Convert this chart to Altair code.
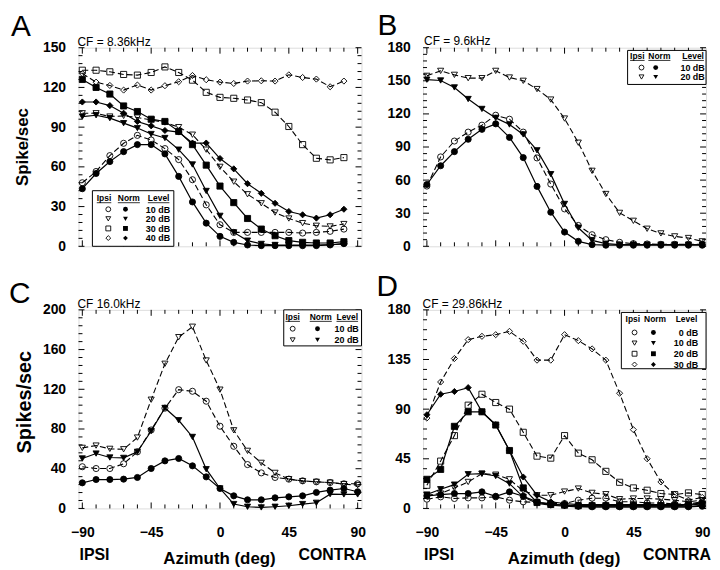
import altair as alt
import pandas as pd

FONT = "Liberation Sans"
W, H = 285, 200

# ---------------- data ----------------
AZ_A = [-90, -81, -72, -63, -54, -45, -36, -27, -18, -9, 0, 9, 18, 27, 36, 45, 54, 63, 72, 81]
AZ = [-90, -81, -72, -63, -54, -45, -36, -27, -18, -9, 0, 9, 18, 27, 36, 45, 54, 63, 72, 81, 90]
SHAPES = ["circle", "triangle-down", "square", "diamond"]

# Panel A (CF = 8.36 kHz)
A_LEVELS = ["10 dB", "20 dB", "30 dB", "40 dB"]
A_IPSI = [
    [48, 56.5, 68.5, 77.8, 83.8, 80.3, 73.8, 65.5, 50.3, 31.3, 16.3, 10.5, 10.5, 10.5, 10.5, 10.5, 10, 10.5, 11.3, 13],
    [100.5, 100.5, 98, 98.5, 97.3, 95.5, 93.5, 90, 84.3, 73, 60, 48.8, 39.3, 32.5, 25.5, 21, 17.5, 15.5, 15, 16.8],
    [133, 133, 131.8, 129.8, 129.3, 131.3, 135.5, 131.3, 125.5, 116.3, 112.5, 111.8, 110.5, 108.5, 101.3, 90.5, 76.8, 66.5, 65.3, 67],
    [130.5, 124, 121.5, 118, 121.8, 118, 121.3, 124.3, 129, 125.8, 124, 123, 124.8, 125, 124.8, 129.5, 127.5, 126.3, 120.5, 124.8],
]
A_NORM = [
    [43.5, 55, 64, 71.5, 76.8, 76.8, 69.8, 52.8, 33.5, 17.5, 7.5, 3, 1, 0.5, 0.5, 0.5, 0.5, 0.5, 1, 2],
    [98, 99, 96.8, 93, 89.3, 84.8, 81.8, 73, 61.8, 41.8, 23, 10.5, 4.3, 1.8, 1, 1, 1, 1, 1.3, 1.8],
    [126, 120, 115, 106, 101.8, 96, 94.3, 86.8, 76.8, 61.3, 45.5, 33, 21, 13, 8, 4.3, 3, 2.5, 2.5, 3.5],
    [109, 109, 106.3, 100.5, 94.3, 91, 87.5, 86.3, 78, 78, 66.3, 58.5, 47.3, 40, 32.5, 26.3, 23.8, 21.3, 23.8, 28],
]

# Panel B (CF = 9.6 kHz)
B_LEVELS = ["10 dB", "20 dB"]
B_IPSI = [
    [54.6, 81, 95.4, 103.5, 109.8, 118.8, 115.2, 103.5, 80.1, 56.4, 33.9, 18.9, 10.5, 6, 3.6, 2.4, 2.1, 1.8, 1.8, 1.8, 1.8],
    [154.5, 159, 155.4, 152.4, 152.4, 159, 153, 150, 142.5, 133, 115.8, 93.9, 68.4, 47.4, 30.3, 23.1, 15.9, 11.7, 9, 7.5, 4.5],
]
B_NORM = [
    [56, 73, 85.8, 97, 106, 111, 98.7, 80.4, 54.3, 30.9, 12.9, 4.5, 1.5, 1, 1, 1, 1, 1, 1, 1, 1],
    [151, 150.3, 144, 133.5, 124.5, 116.4, 110.4, 101.4, 87, 65.4, 38.4, 16.8, 5.4, 2.4, 1.5, 1.5, 1.5, 1.5, 1.5, 1.5, 1.5],
]

# Panel C (CF 16.0 kHz)
C_LEVELS = ["10 dB", "20 dB"]
C_IPSI = [
    [42, 40.2, 40.2, 45, 57, 79, 101, 119.6, 118, 108, 82.8, 62.6, 44.2, 35.8, 31.2, 29.5, 27.8, 26.8, 26.1, 24.8, 24.8],
    [61, 63.3, 60, 59.6, 71.4, 109.5, 145.7, 172.5, 183, 149, 119.6, 78.7, 58, 45.9, 35.8, 29.5, 27.5, 26.8, 26, 24.5, 23.5],
]
C_NORM = [
    [25.8, 29.1, 29.1, 29.5, 31.2, 40.2, 47.9, 50.3, 42.9, 31.8, 20.1, 12.7, 8.7, 8.7, 10.7, 11.7, 12.7, 16.1, 18.4, 20.1, 16.8],
    [50.3, 55.3, 51.3, 50.9, 57, 78, 101.2, 88.8, 72, 39.5, 20.1, 4.4, 1.7, 1, 1.7, 2.7, 4.4, 5.7, 14.4, 14.1, 14.1],
]

# Panel D (CF = 29.86 kHz)
D_LEVELS = ["0 dB", "10 dB", "20 dB", "30 dB"]
D_IPSI = [
    [8.4, 10.5, 9, 9.6, 9.6, 10.5, 7.5, 6, 5.4, 4.5, 4.5, 7.5, 9.3, 9.3, 6, 6, 5, 5, 4, 4, 6],
    [12, 13.5, 18.6, 24, 31.5, 30.6, 26.4, 15.8, 12, 12, 15.3, 18, 14.1, 12.9, 8.4, 9, 9, 8.4, 7.5, 6, 7.5],
    [21, 42.9, 66, 93.6, 103.5, 96, 90, 69, 47.4, 45.6, 66, 50.1, 44.1, 33.6, 23.7, 18.6, 16.5, 13.5, 12.6, 14.1, 12.6],
    [81.9, 114.6, 135.9, 153, 156, 157.5, 160.5, 151.5, 134.4, 134.4, 157.5, 152.1, 144.6, 134.4, 104.4, 71.4, 45, 24, 12.6, 7.5, 10],
]
D_NORM = [
    [11.4, 12.5, 13.5, 13.5, 15, 11, 15, 11, 6, 3.6, 3, 2, 1.5, 1.5, 1.5, 1.5, 1.5, 1.5, 1.5, 1.5, 2],
    [12.6, 17.4, 21.6, 31, 31.5, 29.4, 22.5, 10.5, 4.5, 3, 2, 1.5, 1.5, 1.5, 1.5, 1.5, 1.5, 1.5, 1.5, 1.5, 3],
    [26.4, 35.4, 74.4, 87.6, 87.6, 75.6, 52.5, 18.6, 5.4, 3.6, 3, 2.5, 2.5, 2.5, 2.5, 2.5, 2.5, 2.5, 2.5, 3, 4],
    [84.9, 103.5, 106, 109.5, 87.6, 75.9, 52.5, 28.5, 12, 6, 4.5, 3.5, 3.5, 3.5, 3.5, 3.5, 3.5, 3.5, 3.5, 3.5, 5],
]

X_MAJOR = [-90, -45, 0, 45, 90]
X_MINOR = [-81, -72, -63, -54, -36, -27, -18, -9, 9, 18, 27, 36, 54, 63, 72, 81]

ONE = pd.DataFrame({"o": [0]})


def build_df(az, ipsi, norm, levels):
    rows = []
    for k, lv in enumerate(levels):
        for a, v in zip(az, ipsi[k]):
            rows.append(dict(az=a, val=v, level=lv, kind="Ipsi", sid=f"I{k}",
                             shape=SHAPES[k], fill="transparent"))
        for a, v in zip(az, norm[k]):
            rows.append(dict(az=a, val=v, level=lv, kind="Norm", sid=f"N{k}",
                             shape=SHAPES[k], fill="black"))
    return pd.DataFrame(rows)


def txt(text, x, y, size, weight="normal", align="left", baseline="alphabetic", angle=None):
    props = dict(text=text, fontSize=size, fontWeight=weight, align=align,
                 baseline=baseline, font=FONT, color="black")
    if angle is not None:
        props["angle"] = angle
    return alt.Chart(ONE).mark_text(**props).encode(x=alt.value(x), y=alt.value(y))


def legend(levels, box, header_base, cols, rows_c, underline=True):
    x1, x2, y1, y2 = box
    ipsi_x, norm_x, level_x, sym_o, sym_f, lab_r = cols
    L = [alt.Chart(ONE).mark_rect(fill="white", stroke="black", strokeWidth=1).encode(
        x=alt.value(x1), x2=alt.value(x2), y=alt.value(y1), y2=alt.value(y2))]
    for word, cx, w in [("Ipsi", ipsi_x, 14.6), ("Norm", norm_x, 22.2), ("Level", level_x, 21.7)]:
        L.append(txt(word, cx, header_base, 8.5, "bold", "center"))
        if underline:
            L.append(alt.Chart(ONE).mark_rule(color="black", strokeWidth=0.8).encode(
                x=alt.value(cx - w / 2), x2=alt.value(cx + w / 2),
                y=alt.value(header_base + 1.6)))
    for k, (lv, yc) in enumerate(zip(levels, rows_c)):
        L.append(alt.Chart(ONE).mark_point(shape=SHAPES[k], filled=False, color="black",
                                           size=24, strokeWidth=0.9, opacity=1).encode(
            x=alt.value(sym_o), y=alt.value(yc)))
        L.append(alt.Chart(ONE).mark_point(shape=SHAPES[k], filled=True, color="black",
                                           size=24, opacity=1).encode(
            x=alt.value(sym_f), y=alt.value(yc)))
        L.append(txt(lv, lab_r, yc + 3.3, 9, "bold", "right"))
    return L


def panel(df, ymax, ystep, yminor, xlabels, extras):
    xs = alt.Scale(domain=[-92.5, 92.5], nice=False, zero=False)
    ys = alt.Scale(domain=[0, ymax], nice=False, zero=False)
    yvals = list(range(0, ymax + 1, ystep))
    yminv = [v for v in range(0, ymax + 1, yminor) if v not in yvals]
    if xlabels:
        xaxis = alt.Axis(values=X_MAJOR, labelFontSize=14, labelFontWeight="bold",
                         labelPadding=17, ticks=False, domain=False, grid=False,
                         title=None, labelFlush=False, labelColor="black", labelFont=FONT)
    else:
        xaxis = None
    yaxis = alt.Axis(values=yvals, labelFontSize=14, labelFontWeight="bold",
                     labelPadding=13, ticks=False, domain=False, grid=False,
                     title=None, labelColor="black", labelFont=FONT)
    X = alt.X("az:Q", scale=xs, axis=xaxis)
    Y = alt.Y("val:Q", scale=ys, axis=yaxis)

    base = alt.Chart(df)
    dashed = base.transform_filter(alt.datum.kind == "Ipsi").mark_line(
        color="black", strokeWidth=1.1, strokeDash=[6, 3]).encode(x=X, y=Y, detail="sid:N")
    solid = base.transform_filter(alt.datum.kind == "Norm").mark_line(
        color="black", strokeWidth=1.2).encode(x=X, y=Y, detail="sid:N")
    pts = base.mark_point(filled=True, stroke="black", strokeWidth=0.9, size=38, opacity=1).encode(
        x=X, y=Y,
        shape=alt.Shape("shape:N", scale=None),
        fill=alt.Fill("fill:N", scale=None))

    layers = [dashed, solid, pts]
    rule = dict(color="black", strokeWidth=1)
    for vals, ln in [(X_MAJOR, 6), (X_MINOR, 4)]:
        d = pd.DataFrame({"az": vals})
        layers.append(alt.Chart(d).mark_rule(**rule).encode(x=X, y=alt.value(H), y2=alt.value(H - ln)))
        layers.append(alt.Chart(d).mark_rule(**rule).encode(x=X, y=alt.value(0), y2=alt.value(ln)))
    for vals, ln in [(yvals, 6), (yminv, 4)]:
        d = pd.DataFrame({"val": vals})
        layers.append(alt.Chart(d).mark_rule(**rule).encode(y=Y, x=alt.value(0), x2=alt.value(ln)))
        layers.append(alt.Chart(d).mark_rule(**rule).encode(y=Y, x=alt.value(W), x2=alt.value(W - ln)))
    layers += extras
    if xlabels:
        layers.append(txt("IPSI", 1, H + 51.5, 16, "bold", "left"))
        layers.append(txt("CONTRA", 290, H + 51.5, 16, "bold", "right"))
        layers.append(txt("Azimuth (deg)", 142, H + 55.5, 17, "bold", "center"))
    return alt.layer(*layers).properties(width=W, height=H)


dfA = build_df(AZ_A, A_IPSI, A_NORM, A_LEVELS)
dfB = build_df(AZ, B_IPSI, B_NORM, B_LEVELS)
dfC = build_df(AZ, C_IPSI, C_NORM, C_LEVELS)
dfD = build_df(AZ, D_IPSI, D_NORM, D_LEVELS)

extA = [txt("A", -68, -12, 30), txt("CF = 8.36kHz", -1, -2, 12),
        txt("Spike/sec", -56, 100, 17, "bold", "center", "middle", 270)] + \
    legend(A_LEVELS, (14, 96, 144, 200), 154.5, (25.7, 50.7, 80.7, 30, 47.3, 92.3),
           [162.7, 172.3, 182, 191.7])
extB = [txt("B", -46, -13.3, 30), txt("CF = 9.6kHz", 1, -2.5, 12)] + \
    legend(B_LEVELS, (206, 285, 2.7, 37), 11.2, (215.8, 238, 272, 220, 234.3, 283.7),
           [20, 29.5])
extC = [txt("C", -70, -7, 30), txt("CF 16.0kHz", -1, -2, 12),
        txt("Spikes/sec", -53.5, 93, 20, "bold", "center", "middle", 270)] + \
    legend(C_LEVELS, (206.7, 285, 0, 36.3), 10, (215.7, 244, 270.7, 215.7, 240.7, 282.3),
           [19, 30.3])
extD = [txt("D", -47, -13.5, 30), txt("CF = 29.86kHz", -0.5, -2, 12)] + \
    legend(D_LEVELS, (199.7, 285, 2.6, 59.3), 12, (211.3, 233.7, 265.3, 213, 232, 277),
           [22.8, 33.5, 44.2, 55], underline=False)

pA = panel(dfA, 150, 30, 6, False, extA)
pB = panel(dfB, 180, 30, 6, False, extB)
pC = panel(dfC, 200, 40, 8, True, extC)
pD = panel(dfD, 180, 45, 9, True, extD)

chart = alt.concat(pA, pB, pC, pD, columns=2, spacing={"row": 64, "column": 62},
                   bounds="flush").properties(
    padding=0
).configure_view(stroke="black", strokeWidth=1).configure(font=FONT, background="white")

chart.save("out.html", embed_options={"renderer": "svg", "actions": False})
